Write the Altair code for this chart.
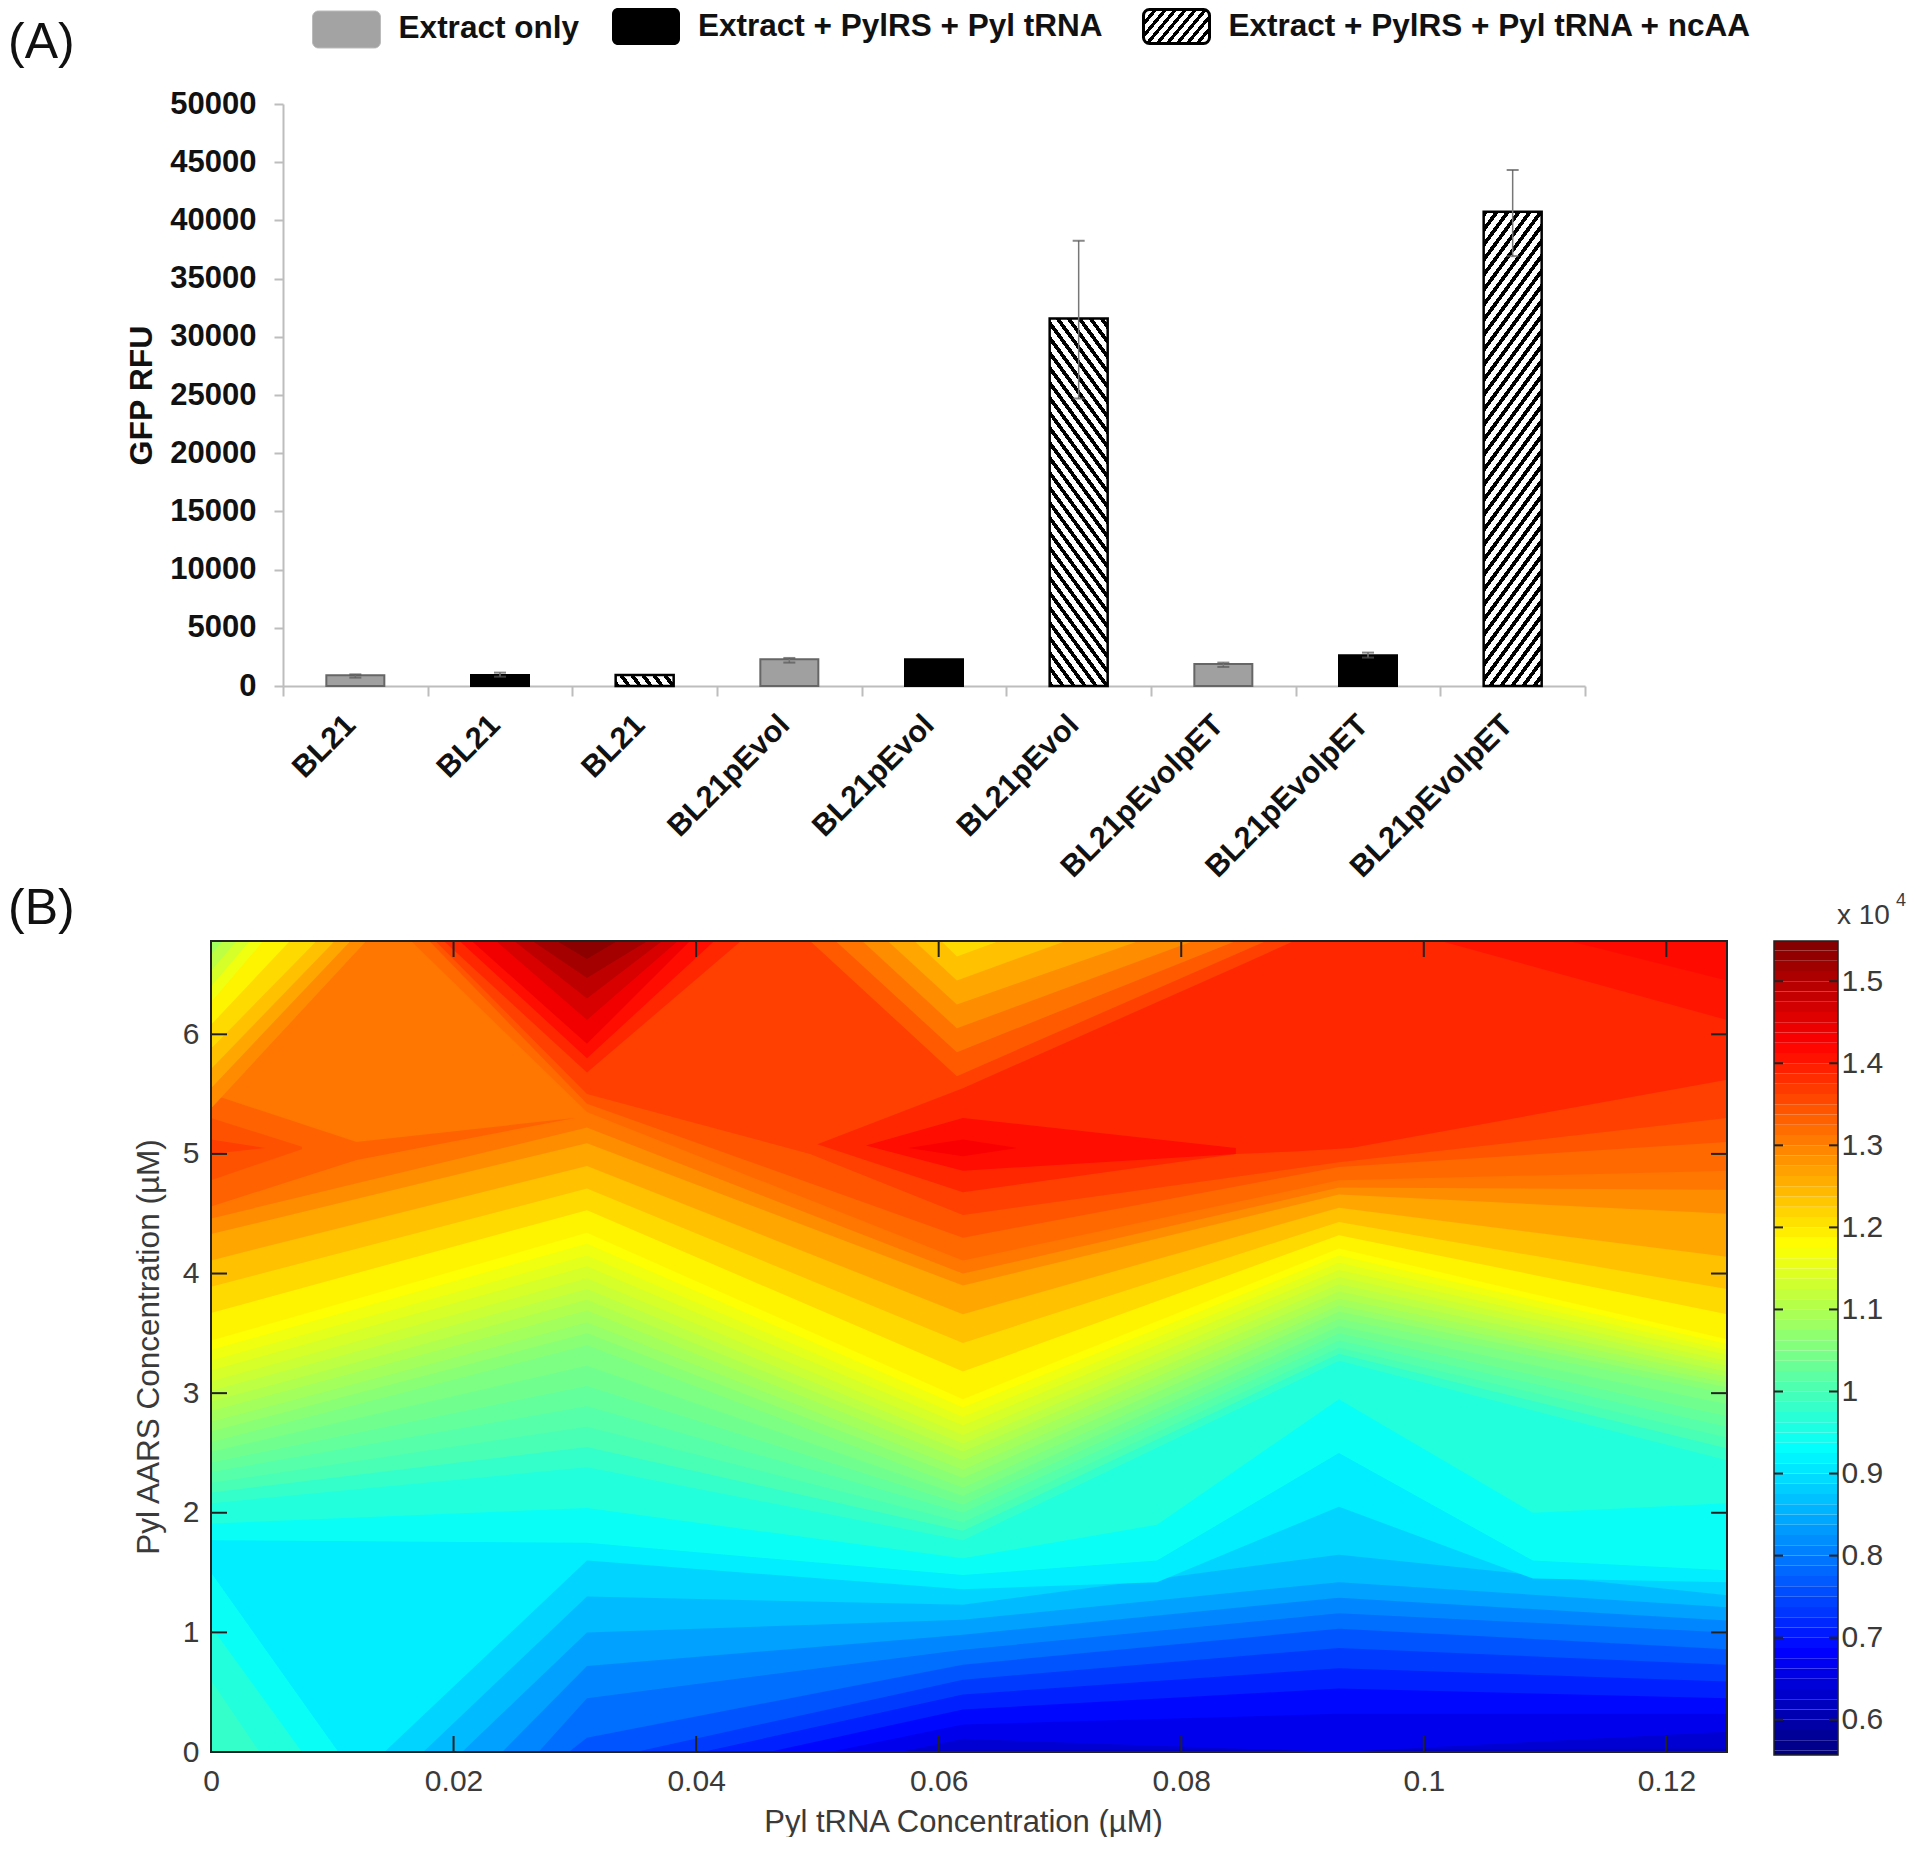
import json
import altair as alt
import pandas as pd

# ---------- panel A values ----------
BAR_LABELS = ["BL21", "BL21", "BL21", "BL21pEvol", "BL21pEvol", "BL21pEvol",
              "BL21pEvolpET", "BL21pEvolpET", "BL21pEvolpET"]
BAR_VALUES = [920, 940, 950, 2290, 2290, 31580, 1890, 2640, 40740]
BAR_GROUP = [0, 1, 2, 0, 1, 2, 0, 1, 2]
ERR_LOW = [720, 800, None, 2010, None, 24700, 1640, 2440, 36930]
ERR_HIGH = [1000, 1150, None, 2410, None, 38250, 2010, 2870, 44330]
LEGEND = ["Extract only", "Extract + PylRS + Pyl tRNA", "Extract + PylRS + Pyl tRNA + ncAA"]
Y_TICKS = [0, 5000, 10000, 15000, 20000, 25000, 30000, 35000, 40000, 45000, 50000]

# ---------- panel B values: contour boundaries ----------
TOP = 6.78
XT = [0, 0.02, 0.04, 0.06, 0.08, 0.1, 0.12]
YT = [0, 1, 2, 3, 4, 5, 6]
CB_TICKS = [0.6, 0.7, 0.8, 0.9, 1, 1.1, 1.2, 1.3, 1.4, 1.5]
COL5 = [0, 0.031, 0.062, 0.093, 0.125]
COL4 = [0.031, 0.062, 0.093, 0.125]
COL3 = [0.062, 0.093, 0.125]

# (colour value, x positions, lower boundary, upper boundary or None = top of the plot)
LOW_BANDS = [
    (0.6125, [0, 0.125], [0, 0], None),
    (0.6375, [0, 0.125], [0, 0.03], None),
    (0.6625, [0, 0.0568] + COL3, [0, 0, 0.11, 0, 0.17], None),
    (0.6875, [0, 0.051] + COL3, [0, 0, 0.23, 0.32, 0.32], None),
    (0.7125, [0, 0.046] + COL3, [0, 0, 0.355, 0.53, 0.45], None),
    (0.7375, [0, 0.0405] + COL3, [0, 0, 0.48, 0.70, 0.59], None),
    (0.7625, [0, 0.035] + COL3, [0, 0, 0.605, 0.87, 0.73], None),
    (0.7875, [0, 0.0295] + COL4, [0, 0, 0.12, 0.73, 1.03, 0.86], None),
    (0.8125, [0, 0.027] + COL4, [0, 0, 0.45, 0.855, 1.16, 1.0], None),
    (0.8375, [0, 0.024] + COL4, [0, 0, 0.72, 0.98, 1.29, 1.10], None),
    (0.8625, [0, 0.0207] + COL4, [0, 0, 1.0, 1.105, 1.42, 1.21], None),
    (0.8875, [0, 0.0175] + COL4, [0, 0, 1.3, 1.23, 1.65, 1.31], None),
    (0.9125, [0, 0.0143, 0.031, 0.062, 0.078, 0.093, 0.109, 0.125],
     [0, 0, 1.6, 1.36, 1.42, 2.05, 1.45, 1.42], None),
    (0.9375, [0, 0.031, 0.062, 0.078, 0.093, 0.109, 0.125],
     [1.77, 1.75, 1.48, 1.6, 2.5, 1.6, 1.52], None),
    (0.9625, [0, 0.031, 0.062, 0.078, 0.093, 0.109, 0.125],
     [1.91, 2.04, 1.62, 1.9, 2.95, 2.0, 2.08], None),
]
MID_BANDS = [
    (0.98, COL5, [2.08, 2.38, 1.77, 3.27, 2.44], None),
    (1.0, COL5, [2.17, 2.55, 1.85, 3.33, 2.54], None),
    (1.0125, COL5, [2.25, 2.72, 1.92, 3.38, 2.63], None),
    (1.025, COL5, [2.34, 2.89, 2.0, 3.44, 2.72], None),
    (1.0375, COL5, [2.42, 3.06, 2.07, 3.50, 2.81], None),
    (1.05, COL5, [2.51, 3.23, 2.14, 3.56, 2.91], None),
    (1.0625, COL5, [2.59, 3.40, 2.21, 3.62, 3.0], None),
    (1.075, COL5, [2.68, 3.50, 2.29, 3.68, 3.05], None),
    (1.0875, COL5, [2.76, 3.59, 2.36, 3.73, 3.09], None),
    (1.1, COL5, [2.85, 3.69, 2.44, 3.79, 3.14], None),
    (1.1125, COL5, [2.93, 3.78, 2.51, 3.85, 3.18], None),
    (1.125, COL5, [3.02, 3.87, 2.58, 3.91, 3.23], None),
    (1.1375, COL5, [3.10, 3.96, 2.65, 3.97, 3.27], None),
    (1.15, COL5, [3.19, 4.06, 2.73, 4.03, 3.32], None),
    (1.1625, COL5, [3.27, 4.15, 2.80, 4.09, 3.36], None),
    (1.175, COL5, [3.36, 4.25, 2.88, 4.15, 3.41], None),
    (1.1875, COL5, [3.44, 4.34, 2.95, 4.21, 3.45], None),
    (1.2125, COL5, [3.67, 4.53, 3.18, 4.32, 3.66], None),
    (1.2375, COL5, [3.89, 4.71, 3.42, 4.43, 3.87], None),
    (1.2625, COL5, [4.11, 4.90, 3.66, 4.55, 4.14], None),
    (1.2875, COL5, [4.33, 5.09, 3.90, 4.66, 4.5], None),
    (1.31, COL5, [4.46, 5.22, 4.0, 4.72, 4.7], None),
]
HIGH_BANDS = [
    (1.3225, [0.0165] + COL4, [TOP, 5.35, 4.11, 4.78, 4.86], None),
    (1.3425, [0.018] + COL4, [TOP, 5.42, 4.30, 4.89, 5.10], None),
    (1.3625, [0.0185, 0.031, 0.0494, 0.062, 0.093, 0.125], [TOP, 5.5, 5.0, 4.49, 4.93, 5.3], None),
    (1.3875, [0.05, 0.062, 0.0845, 0.0893, 0.094, 0.125],
     [5.08, 4.68, 5.0, 5.02, 5.05, 5.62], [5.08, 5.55, 6.56, TOP, TOP, TOP]),
    (1.4125, [0.054, 0.062, 0.0845], [5.07, 4.86, 5.0], [5.07, 5.3, 5.05]),
    (1.43, [0.0575, 0.062, 0.0665], [5.05, 4.98, 5.05], [5.05, 5.12, 5.05]),
    (1.405, [0.1014, 0.125], [TOP, 6.12], None),
    (1.415, [0.112, 0.125], [TOP, 6.45], None),
]
LEFT_WEDGE = [
    (1.33, [0, 0.012, 0.03], [4.56, 4.95, 5.3], [5.5, 5.1, 5.3]),
    (1.345, [0, 0.0075], [4.78, 5.04], [5.3, 5.06]),
    (1.365, [0, 0.0045], [5.0, 5.05], [5.12, 5.05]),
]
CORNER_LOW_LEFT = [
    (0.9375, [0, 0.0105], [0, 0], [1.5, 0]),
    (0.9625, [0, 0.0075], [0, 0], [1.05, 0]),
    (0.98, [0, 0.004], [0, 0], [0.6, 0]),
]
PEAK = [
    (1.3875, [0.0192, 0.031, 0.0437], [TOP, 5.68, TOP], None),
    (1.4125, [0.0205, 0.031, 0.0415], [TOP, 5.8, TOP], None),
    (1.4375, [0.0215, 0.031, 0.0395], [TOP, 5.92, TOP], None),
    (1.4625, [0.0235, 0.031, 0.0385], [TOP, 6.12, TOP], None),
    (1.4875, [0.025, 0.031, 0.0372], [TOP, 6.3, TOP], None),
    (1.5125, [0.0265, 0.031, 0.036], [TOP, 6.47, TOP], None),
    (1.5375, [0.0285, 0.031, 0.0335], [TOP, 6.63, TOP], None),
]
TOP_NOTCH = [
    (1.3375, [0.0494, 0.0615, 0.087], [TOP, 5.65, TOP], None),
    (1.3125, [0.0515, 0.0615, 0.0845], [TOP, 5.85, TOP], None),
    (1.2875, [0.0537, 0.0615, 0.081], [TOP, 6.05, TOP], None),
    (1.2625, [0.0558, 0.0615, 0.0765], [TOP, 6.25, TOP], None),
    (1.2375, [0.058, 0.0615, 0.0705], [TOP, 6.45, TOP], None),
    (1.2125, [0.0602, 0.0615, 0.065], [TOP, 6.65, TOP], None),
]
TOP_LEFT = [
    (1.29, [0, 0.0128], [5.38, TOP], None),
    (1.2625, [0, 0.0115], [5.55, TOP], None),
    (1.2375, [0, 0.0102], [5.71, TOP], None),
    (1.2125, [0, 0.0087], [5.88, TOP], None),
    (1.1875, [0, 0.0065], [6.08, TOP], None),
    (1.1625, [0, 0.0043], [6.27, TOP], None),
    (1.1375, [0, 0.0032], [6.4, TOP], None),
    (1.1125, [0, 0.0021], [6.53, TOP], None),
    (1.0875, [0, 0.001], [6.67, TOP], None),
]

FONT = "Liberation Sans"
W, H = 1516, 811
TOP_H = 582
GREY_AX = "#bdbdbd"
TXT = "#3a3a3a"


def hatch(w, h, px, py, flip):
    a, b = w / px, h / py
    n = a + b
    a, b = a / n, b / n
    d = a * a + b * b
    dx, dy = a / d, b / d
    stops = []
    k = 0
    while k / n < 1:
        t0, t1, t2 = k / n, (k + 0.42) / n, (k + 1) / n
        stops += [{"offset": min(t0, 1), "color": "#000"}, {"offset": min(t1, 1), "color": "#000"},
                  {"offset": min(t1, 1), "color": "#fff"}, {"offset": min(t2, 1), "color": "#fff"}]
        k += 1
    y1, y2 = (1, 1 - dy) if flip else (0, dy)
    return {"gradient": "linear", "x1": 0, "y1": y1, "x2": dx, "y2": y2, "stops": stops}


# ---------- panel A ----------
bars = pd.DataFrame({"id": list(range(9)), "value": BAR_VALUES, "group": BAR_GROUP,
                     "low": ERR_LOW, "high": ERR_HIGH})
x_enc = alt.X("id:O", scale=alt.Scale(domain=list(range(9)), range=[72, 1374], paddingInner=0, paddingOuter=0),
              axis=alt.Axis(title=None, labelExpr=json.dumps(BAR_LABELS) + "[datum.value]", labelAngle=-45,
                            labelAlign="right", labelBaseline="middle", labelFont=FONT, labelFontSize=30.5,
                            labelFontWeight="bold", labelColor="#111", labelPadding=24, labelOffset=-5, labelLimit=500,
                            tickBand="extent", tickSize=10, tickColor=GREY_AX, tickWidth=2, domainColor=GREY_AX,
                            domainWidth=2, grid=False, labelOverlap=False))
y_enc = alt.Y("value:Q", scale=alt.Scale(domain=[0, 50000], nice=False),
              axis=alt.Axis(title="GFP RFU", values=Y_TICKS, format="d", offset=-72, labelFont=FONT,
                            labelFontSize=31, labelFontWeight="bold", labelColor="#111", labelPadding=18,
                            tickSize=9, tickColor=GREY_AX, tickWidth=2, domainColor=GREY_AX, domainWidth=2,
                            grid=False, titleFont=FONT, titleFontSize=32, titleFontWeight="bold",
                            titleColor="#111", titlePadding=11))

base = alt.Chart(bars)
grey = base.transform_filter("datum.group==0").mark_bar(width=58, color="#a0a0a0", stroke="#666", strokeWidth=2).encode(x=x_enc, y=y_enc)
black = base.transform_filter("datum.group==1").mark_bar(width=58, color="#000", stroke="#000", strokeWidth=2).encode(x=x_enc, y=y_enc)
hatched = []
for bid, flip in [(2, True), (5, True), (8, False)]:
    px_h = BAR_VALUES[bid] * TOP_H / 50000
    hatched.append(base.transform_filter(f"datum.id=={bid}")
                   .mark_bar(width=58, fill=hatch(58, px_h, 11, 15, flip), stroke="#000", strokeWidth=2.5)
                   .encode(x=x_enc, y=y_enc))
err_base = base.transform_filter("isValid(datum.low)")
err = err_base.mark_rule(color="#777", strokeWidth=1.5).encode(x=x_enc, y=alt.Y("low:Q"), y2="high:Q")
cap1 = err_base.mark_tick(color="#555", size=12, thickness=2, orient="horizontal").encode(x=x_enc, y=alt.Y("high:Q"))
cap2 = err_base.mark_tick(color="#555", size=12, thickness=2, orient="horizontal").encode(x=x_enc, y=alt.Y("low:Q"))
bar_layer = alt.layer(grey, black, *hatched, err, cap1, cap2)

leg = pd.DataFrame({"idx": [0, 1, 2], "label": LEGEND})
leg_x = alt.X("idx:Q", scale=alt.Scale(domain=[0, 1, 2], range=[135.5, 435, 965.5]), axis=None)
leg_y = alt.Y("idx:Q", scale=alt.Scale(domain=[0, 1, 2], range=[-74.5, -77.5, -77.5]), axis=None)
sw1 = alt.Chart(leg).transform_filter("datum.idx==0").mark_rect(width=68, height=37, cornerRadius=6, color="#a3a3a3", stroke="#bbb").encode(x=leg_x, y=leg_y)
sw2 = alt.Chart(leg).transform_filter("datum.idx==1").mark_rect(width=68, height=37, cornerRadius=6, color="#000").encode(x=leg_x, y=leg_y)
sw3 = alt.Chart(leg).transform_filter("datum.idx==2").mark_rect(width=66, height=34, cornerRadius=6, fill=hatch(66, 34, 10, 12, False), stroke="#000", strokeWidth=3).encode(x=leg_x, y=leg_y)
leg_txt = alt.Chart(leg).mark_text(align="left", baseline="middle", font=FONT, fontSize=31.5, fontWeight="bold", color="#111").encode(
    x=alt.X("idx:Q", scale=alt.Scale(domain=[0, 1, 2], range=[187.6, 487, 1017.5]), axis=None),
    y=alt.Y("idx:Q", scale=alt.Scale(domain=[0, 1, 2], range=[-75, -77, -77]), axis=None),
    text="label:N")
tag_a = alt.Chart(alt.Data(values=[{"t": "(A)"}])).mark_text(align="left", baseline="middle", font=FONT, fontSize=50, color="#111").encode(
    x=alt.value(-203), y=alt.value(-61), text="t:N")

panel_a = alt.layer(bar_layer, sw1, sw2, sw3, leg_txt, tag_a).resolve_scale(x="independent", y="independent").properties(
    width=W, height=TOP_H, view=alt.ViewConfig(stroke=None))

# ---------- panel B ----------
rows = []
pid = 0
for group in [LOW_BANDS, MID_BANDS, HIGH_BANDS, LEFT_WEDGE, CORNER_LOW_LEFT, PEAK, TOP_NOTCH, TOP_LEFT]:
    for z, xs, ys, ys2 in group:
        for i, x in enumerate(xs):
            rows.append({"pid": pid, "z": z, "x": x, "y": ys[i], "y2": TOP if ys2 is None else ys2[i]})
        pid += 1
cont = pd.DataFrame(rows)
jet_dom = [0.557, 0.681, 0.929, 1.177, 1.425, 1.549]
jet_rng = ["#000080", "#0000ff", "#00ffff", "#ffff00", "#ff0000", "#800000"]
jet = alt.Scale(domain=jet_dom, range=jet_rng, interpolate="rgb")
xc = alt.X("x:Q", scale=alt.Scale(domain=[0, 0.125], nice=False),
           axis=alt.Axis(title="Pyl tRNA Concentration (\u00b5M)", values=XT, format="~g", tickSize=0, domain=False,
                         grid=False, labelFont=FONT, labelFontSize=30, labelColor=TXT, labelPadding=14,
                         labelFlush=False, titleFont=FONT, titleFontSize=31, titleFontWeight="normal",
                         titleColor=TXT, titlePadding=11, titleX=752))
yc = alt.Y("y:Q", scale=alt.Scale(domain=[0, TOP], nice=False),
           axis=alt.Axis(title="Pyl AARS Concentration (\u00b5M)", values=YT, format="d", tickSize=0, domain=False,
                         grid=False, labelFont=FONT, labelFontSize=30, labelColor=TXT, labelPadding=12,
                         titleFont=FONT, titleFontSize=31.5, titleFontWeight="normal", titleColor=TXT, titlePadding=17))
area = alt.Chart(cont).mark_area(clip=True, orient="vertical", interpolate="linear").encode(
    x=xc, y=yc, y2="y2:Q", detail="pid:N", color=alt.Color("z:Q", scale=jet, legend=None))

xtick = alt.Chart(pd.DataFrame({"x": XT[1:]}))
ytick = alt.Chart(pd.DataFrame({"y": YT[1:]}))
tk = dict(color="#222", strokeWidth=2)
t1 = xtick.mark_rule(**tk).encode(x=xc, y=alt.value(0), y2=alt.value(16))
t2 = xtick.mark_rule(**tk).encode(x=xc, y=alt.value(H), y2=alt.value(H - 16))
t3 = ytick.mark_rule(**tk).encode(y=yc, x=alt.value(0), x2=alt.value(16))
t4 = ytick.mark_rule(**tk).encode(y=yc, x=alt.value(W), x2=alt.value(W - 16))
frame = alt.Chart(alt.Data(values=[{"a": 1}])).mark_rect(fillOpacity=0, stroke="#222", strokeWidth=2).encode(
    x=alt.value(0), x2=alt.value(W), y=alt.value(0), y2=alt.value(H))
tag_b = alt.Chart(alt.Data(values=[{"t": "(B)"}])).mark_text(align="left", baseline="middle", font=FONT, fontSize=50, color="#111").encode(
    x=alt.value(-203), y=alt.value(-32), text="t:N")
panel_b = alt.layer(area, t1, t2, t3, t4, frame, tag_b).properties(width=W, height=H, view=alt.ViewConfig(stroke=None))

# ---------- colour bar ----------
CB_W, CB_H = 64, 814
cb = pd.DataFrame({"lev": [0.55 + 0.0125 * i for i in range(81)]})
cb_scale = alt.Scale(domain=[0.557, 1.549], nice=False)
cb_y = alt.Y("lev:Q", scale=cb_scale,
             axis=alt.Axis(orient="right", title=None, values=CB_TICKS, format="~g", tickSize=0, domain=False, grid=False,
                           labelFont=FONT, labelFontSize=30, labelColor=TXT, labelPadding=3))
cb_rect = alt.Chart(cb).transform_calculate(top="datum.lev+0.0125", mid="datum.lev+0.00625").mark_rect(clip=True).encode(
    y=cb_y, y2="top:Q", color=alt.Color("mid:Q", scale=jet, legend=None))
cb_t = alt.Chart(pd.DataFrame({"lev": CB_TICKS}))
c1 = cb_t.mark_rule(**tk).encode(y=cb_y, x=alt.value(0), x2=alt.value(9))
c2 = cb_t.mark_rule(**tk).encode(y=cb_y, x=alt.value(CB_W), x2=alt.value(CB_W - 9))
cb_frame = alt.Chart(alt.Data(values=[{"a": 1}])).mark_rect(fillOpacity=0, stroke="#222", strokeWidth=1.5).encode(
    x=alt.value(0), x2=alt.value(CB_W), y=alt.value(0), y2=alt.value(CB_H))
cb_x = alt.Chart(alt.Data(values=[{"t": "x 10"}])).mark_text(align="left", baseline="middle", font=FONT, fontSize=28, color=TXT).encode(
    x=alt.value(63), y=alt.value(-25), text="t:N")
cb_e = alt.Chart(alt.Data(values=[{"t": "4"}])).mark_text(align="left", baseline="middle", font=FONT, fontSize=18, color=TXT).encode(
    x=alt.value(122), y=alt.value(-40), text="t:N")
colorbar = alt.layer(cb_rect, c1, c2, cb_frame, cb_x, cb_e).properties(width=CB_W, height=CB_H, view=alt.ViewConfig(stroke=None))

blank = alt.Chart(alt.Data(values=[{"a": 1}])).mark_point(opacity=0).encode(x=alt.value(0)).properties(
    width=CB_W, height=10, view=alt.ViewConfig(stroke=None))

chart = alt.concat(panel_a, blank, panel_b, colorbar, columns=2, spacing={"row": 255, "column": 47},
                   bounds="flush").properties(padding=0, background="white").resolve_scale(color="independent")

chart.save("out.html", embed_options={"renderer": "svg", "actions": False})
